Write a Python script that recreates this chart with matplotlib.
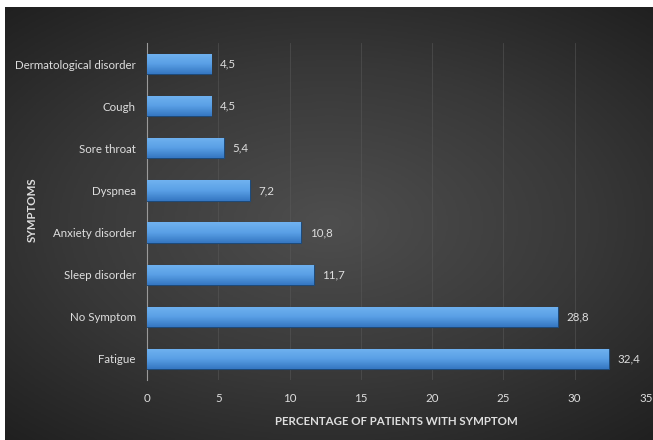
import numpy as np
import matplotlib
matplotlib.use('Agg')
import matplotlib.pyplot as plt
from matplotlib.colors import LinearSegmentedColormap

# --- data (bottom to top)
symptoms = ["Fatigue", "No Symptom", "Sleep disorder", "Anxiety disorder",
            "Dyspnea", "Sore throat", "Cough", "Dermatological disorder"]
percent = [32.4, 28.8, 11.7, 10.8, 7.2, 5.4, 4.5, 4.5]
x_ticks = [0, 5, 10, 15, 20, 25, 30, 35]

plt.rcParams['font.family'] = ['Lato', 'DejaVu Sans']
TXT = '#dedede'
FS = 8.3

fig = plt.figure(figsize=(6.53, 4.40), dpi=100)
fig.patch.set_facecolor('white')

# dark radial background, lighter in the middle
bg = fig.add_axes([5 / 653, 0, 648 / 653, 433 / 440])
bg.set_axis_off()
yy, xx = np.mgrid[-1:1:300j, -1:1:450j]
r = np.sqrt((xx * 0.9) ** 2 + (yy * 1.0) ** 2)
bg_cmap = LinearSegmentedColormap.from_list('bg', ['#4e4e4e', '#383838', '#1c1c1c'])
bg.imshow(r, cmap=bg_cmap, aspect='auto', extent=[0, 1, 0, 1], vmin=0, vmax=1.45)
bg.set_xlim(0, 1)
bg.set_ylim(0, 1)

ax = fig.add_axes([147 / 653, 60 / 440, 499 / 653, 337 / 440])
ax.patch.set_alpha(0)
ypos = np.arange(len(symptoms))
bars = ax.barh(ypos, percent, height=0.48, color='#4a8fd8',
               edgecolor='#1d4a7a', linewidth=0.8, zorder=3)

# vertical gradient on each bar
grad = np.linspace(0, 1, 50).reshape(-1, 1)
bar_cmap = LinearSegmentedColormap.from_list('bar', ['#3577c2', '#5aa0e6', '#70b2f0'])
for b in bars:
    x0, y0 = b.get_x(), b.get_y()
    w, h = b.get_width(), b.get_height()
    im = ax.imshow(grad, cmap=bar_cmap, aspect='auto', origin='lower',
                   extent=[x0, x0 + w, y0, y0 + h], zorder=3.5)
    im.set_clip_path(b)

for y, v in zip(ypos, percent):
    ax.text(v + 0.6, y, f"{v:.1f}".replace('.', ','), va='center', ha='left',
            color=TXT, fontsize=FS, zorder=4)

ax.set_xlim(0, 35)
ax.set_ylim(-0.5, len(symptoms) - 0.5)
ax.set_xticks(x_ticks)
ax.set_yticks(ypos)
ax.set_yticklabels(symptoms)
ax.tick_params(axis='both', length=0, colors=TXT, labelsize=FS)
ax.tick_params(axis='x', pad=9)
ax.tick_params(axis='y', pad=8)
ax.grid(axis='x', color='#5a5a5a', linewidth=0.6, alpha=0.6, zorder=0)
for s in ['top', 'right', 'bottom']:
    ax.spines[s].set_visible(False)
ax.spines['left'].set_color('#9a9a9a')
ax.spines['left'].set_linewidth(0.8)

ax.set_xlabel("PERCENTAGE OF PATIENTS WITH SYMPTOM", color=TXT,
              fontsize=FS, fontweight='bold', labelpad=9)
fig.text(32 / 653, 1 - 210 / 440, "SYMPTOMS", rotation=90, color=TXT,
         fontsize=FS, fontweight='bold', ha='center', va='center')

fig.savefig('out.png', dpi=100, facecolor=fig.get_facecolor())
